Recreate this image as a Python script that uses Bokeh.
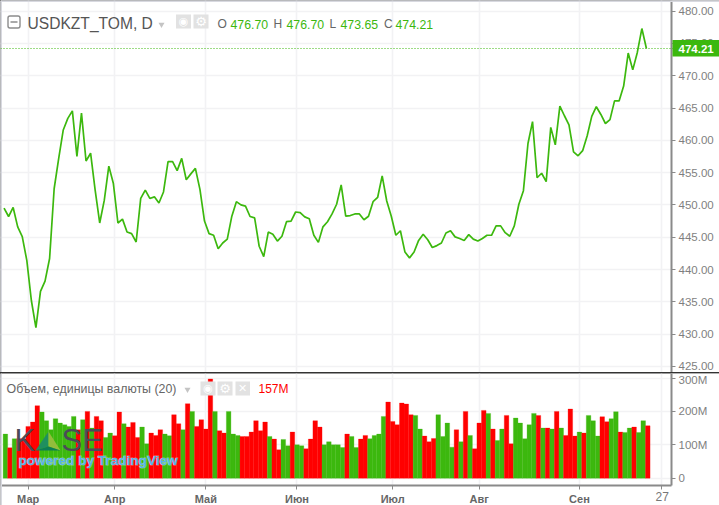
from bokeh.plotting import figure
from bokeh.layouts import column
from bokeh.models import (FixedTicker, Label, Span, Range1d, BoxAnnotation,
                          PrintfTickFormatter, ColumnDataSource)
from bokeh.core.properties import value
from bokeh.embed import file_html
from bokeh.resources import INLINE

close = [449.5,448.2,449.6,446.6,445.1,441.4,435.2,431.0,436.6,438.2,441.7,452.5,457.2,461.6,463.4,464.55,457.5,464.2,456.8,458.0,
452.3,447.2,450.7,456.0,453.3,447.2,447.8,445.8,445.55,444.26,451.0,452.3,451.0,451.25,450.3,452.0,456.7,456.7,455.3,457.2,
453.9,454.8,455.65,452.4,447.5,445.55,445.3,443.2,444.1,444.7,448.25,450.5,450.0,449.8,448.2,448.0,443.6,442.0,445.8,445.45,
444.4,445.15,447.4,447.5,448.9,448.8,448.15,447.85,445.3,444.2,446.6,447.4,448.6,450.1,453.1,448.25,448.35,448.6,448.6,447.7,
448.25,450.5,451.15,454.5,450.6,448.25,445.3,446.0,442.7,441.8,442.7,444.5,445.45,444.6,443.4,443.7,444.1,445.65,446.0,445.05,
444.8,444.5,445.4,444.7,444.4,444.8,445.3,445.3,446.75,446.75,445.7,445.15,446.75,450.1,452.2,459.5,462.9,454.2,454.9,453.6,
462.0,459.3,465.3,463.8,462.4,458.2,457.6,458.4,460.7,463.7,465.2,464.0,462.6,463.2,466.1,466.1,468.4,473.5,470.9,473.6,
477.3,474.21]

volume = [132,91,118,118,118,155,168,217,198,172,145,178,165,160,155,185,145,175,200,150,
185,172,122,135,127,198,163,153,167,122,153,103,135,128,145,132,127,190,163,145,
223,200,155,175,147,297,200,142,135,200,132,128,125,125,138,172,142,168,125,117,
85,116,97,138,100,97,88,117,172,153,100,109,100,100,92,132,125,92,117,128,
118,128,132,185,228,170,160,225,222,190,188,147,126,109,119,190,125,165,93,145,
109,200,128,88,165,203,194,147,113,147,188,103,180,165,118,160,194,188,150,150,
147,200,150,128,207,126,138,135,188,172,126,184,169,178,199,138,137,150,153,137,
172,157]

direction = ("GRGRRRRRGGGGGGGGRGRGRRGGRRGRRRGGRRRGGRRGRGRRRRGRRGGG"
             "RRRRRRGRRGGRGGRRRRGGGGGRGGRRGGGGRRRRRRGGRRRGGGGRGRGRR"
             "RGRGGRRGGGGGRGRGRGRRRGRGGGRRGGRGGRGGR")

tick_index = [5, 24, 44, 64, 85, 104, 126]
tick_names = ["Мар", "Апр", "Май", "Июн", "Июл", "Авг", "Сен"]
last_tick_index = 144
last_tick_name = "27"
price_ticks = [425, 430, 435, 440, 445, 450, 455, 460, 465, 470, 475, 480]
volume_ticks = [0, 100, 200, 300]
volume_names = {0: "0", 100: "100M", 200: "200M", 300: "300M"}
last_price = 474.21
ohlc = [("O", "476.70"), ("H", "476.70"), ("L", "473.65"), ("C", "474.21")]
title = "USDKZT_TOM, D"
study = "Объем, единицы валюты (20)"
study_value = "157M"

GREEN = "#3cb80e"
RED = "#ff0000"
GRID = "#f2f2f4"
EDGE = "#d8d9e0"
AXIS = "#8a8a8a"
TXT = "#7f7f7f"
FONT = "Liberation Sans"

# pixel <-> data helpers for the overlaid annotations
def X(px): return (px - 4.9) / 4.556
def P(py): return 480 - (py - 10.6) / 6.46
def V(py): return (477.7 - py) / 0.334

x_range = Range1d(X(0), X(719))

p = figure(width=719, height=372, x_range=x_range, y_range=Range1d(P(372), P(0)),
           output_backend="svg", toolbar_location=None, x_axis_location=None,
           y_axis_location="right", min_border=0)
v = figure(width=719, height=132, x_range=x_range, y_range=Range1d(V(505), V(373)),
           output_backend="svg", toolbar_location=None, y_axis_location="right",
           min_border=0)

for f in (p, v):
    f.background_fill_color = "white"
    f.border_fill_color = "white"
    f.outline_line_color = None
    f.xgrid.ticker = FixedTicker(ticks=tick_index + [last_tick_index])
    f.xgrid.grid_line_color = GRID
    f.xgrid.grid_line_width = 1.6
    f.ygrid.grid_line_color = GRID
    f.ygrid.grid_line_width = 1.6
    ax = f.yaxis[0]
    ax.fixed_location = X(671)
    ax.axis_line_color = AXIS
    ax.axis_line_width = 2
    ax.major_tick_line_color = AXIS
    ax.major_tick_out = 4
    ax.major_tick_in = 0
    ax.minor_tick_line_color = None
    ax.major_label_text_color = TXT
    ax.major_label_text_font = FONT
    ax.major_label_text_font_size = "11.5px"
    ax.major_label_standoff = 3
    f.add_layout(Span(location=X(0.5), dimension="height", line_color=EDGE, line_width=2))

p.add_layout(Span(location=P(0.5), dimension="width", line_color=EDGE, line_width=2))
p.yaxis[0].ticker = FixedTicker(ticks=price_ticks)
p.ygrid.ticker = FixedTicker(ticks=price_ticks)
p.yaxis[0].formatter = PrintfTickFormatter(format="%.2f")
p.yaxis[0].bounds = (P(372), P(0))

v.yaxis[0].ticker = FixedTicker(ticks=volume_ticks)
v.ygrid.ticker = FixedTicker(ticks=volume_ticks)
v.yaxis[0].major_label_overrides = volume_names
v.yaxis[0].bounds = (V(485), V(373))

xa = v.xaxis[0]
xa.fixed_location = V(485)
xa.bounds = (X(0), X(671))
xa.ticker = FixedTicker(ticks=tick_index + [last_tick_index])
xa.major_label_overrides = {**dict(zip(tick_index, tick_names)), last_tick_index: " "}
xa.axis_line_color = AXIS
xa.axis_line_width = 2
xa.major_tick_line_color = AXIS
xa.major_tick_out = 4
xa.major_tick_in = 0
xa.minor_tick_line_color = None
xa.major_label_text_color = "#666666"
xa.major_label_text_font = FONT
xa.major_label_text_font_size = "11px"
xa.major_label_text_font_style = "bold"
xa.major_label_standoff = 3

# white covers so that the grid stops at the axes
p.quad(left=X(671), right=X(719), top=P(0), bottom=P(372), fill_color="white", line_color=None)
v.quad(left=X(671), right=X(719), top=V(373), bottom=V(505), fill_color="white", line_color=None)
v.quad(left=X(0), right=X(719), top=V(485), bottom=V(505), fill_color="white", line_color=None)

# price line
idx = list(range(len(close)))
p.line([i - 0.3 for i in idx], close, line_color=GREEN, line_width=1.7)
p.add_layout(Span(location=last_price, dimension="width", line_color=GREEN,
                  line_width=1, line_dash="1 2"))

# volume
colors = [GREEN if d == "G" else RED for d in direction]
vsrc = ColumnDataSource(dict(x=idx, top=volume, color=colors))
v.vbar(x="x", top="top", bottom=0, width=1.0, fill_color="color", line_color="color",
       line_width=0.3, source=vsrc)

def label(f, px, y, text, color="#666666", size=12, style="normal", **kw):
    f.add_layout(Label(x=X(px), y=y, text=text, text_color=color, text_font=FONT,
                       text_font_size=f"{size}px", text_font_style=style,
                       text_baseline="middle", **kw))

# last price tag
p.add_layout(BoxAnnotation(left=X(672), right=X(719), top=P(39.5), bottom=P(56),
                           fill_color=GREEN, fill_alpha=1, line_color=None))
label(p, 678, P(48), f"{last_price:.2f}", "white", 11.5, "bold")

# header
p.quad(left=X(7.5), right=X(19.5), top=P(15.5), bottom=P(27.5), fill_color=None,
       line_color="#8c8c8c", line_width=1.4, border_radius=2)
p.segment(X(10), P(21.5), X(17), P(21.5), line_color="#8c8c8c", line_width=1.4)
label(p, 27, P(23), title, "#555555", 15.6)
p.scatter([X(161)], [P(24)], marker="inverted_triangle", size=6, fill_color="#c4c4c4", line_color=None)

def eye(f, conv, px, py):
    f.quad(left=X(px), right=X(px + 15), top=conv(py), bottom=conv(py + 14),
           fill_color="#e2e2e2", line_color=None)
    f.text([X(px + 7.5)], [conv(py + 7)], text=["◉"], text_color="white", text_align="center",
           text_baseline="middle", text_font=value("DejaVu Sans"), text_font_size="11px")

def gear(f, conv, px, py):
    f.quad(left=X(px), right=X(px + 15), top=conv(py), bottom=conv(py + 14),
           fill_color="#e2e2e2", line_color=None)
    f.text([X(px + 7.5)], [conv(py + 7)], text=["⚙"], text_color="white", text_align="center",
           text_baseline="middle", text_font=value("DejaVu Sans"), text_font_size="13px")

eye(p, P, 175.5, 14)
gear(p, P, 193, 14)

pos = [(217, 230), (273, 286), (329, 340), (383.5, 395)]
for (k, val), (kx, vx) in zip(ohlc, pos):
    label(p, kx, P(23.5), k, "#666666", 12)
    label(p, vx, P(23.5), val, GREEN, 12.3)

# volume header
label(v, 6, V(388.5), study, "#666666", 12.4)
v.scatter([X(187)], [V(389)], marker="inverted_triangle", size=6, fill_color="#c4c4c4", line_color=None)
eye(v, V, 200, 381)
gear(v, V, 217, 381)
v.quad(left=X(235), right=X(249.5), top=V(381), bottom=V(395), fill_color="#e2e2e2", line_color=None)
v.text([X(242)], [V(388)], text=["✕"], text_color="white", text_align="center",
       text_baseline="middle", text_font=value("DejaVu Sans"), text_font_size="11px")
label(v, 258, V(388.5), study_value, RED, 12)

# watermark
label(v, 14, V(439.5), "K", "#4b4b57", 31)
label(v, 61, V(439.5), "SE", "#4b4b57", 31)
v.patch([X(35), X(48), X(48)], [V(450), V(431), V(446)], fill_color="#1f8f5f", line_color=None)
v.patch([X(48), X(48), X(60)], [V(431), V(446), V(450)], fill_color="#93bd3c", line_color=None)
v.patch([X(35), X(48), X(60)], [V(450), V(446), V(450)], fill_color="#0e7d55", line_color=None)
for kw in (dict(text_color="#ffffff", text_alpha=0.4, text_outline_color="#ffffff"),
           dict(text_color="#55b2ea")):
    v.text([X(18)], [V(459.5)], text=["powered by TradingView"], text_baseline="middle",
           text_font=value(FONT), text_font_size="13.6px", text_font_style="bold", **kw)

# last x-axis label, regular weight
label(v, 655, V(496), last_tick_name, "#777777", 12)

page = column(p, v, spacing=1, styles={"background-color": "#333333"})
open("out.html", "w").write(file_html(page, INLINE))
